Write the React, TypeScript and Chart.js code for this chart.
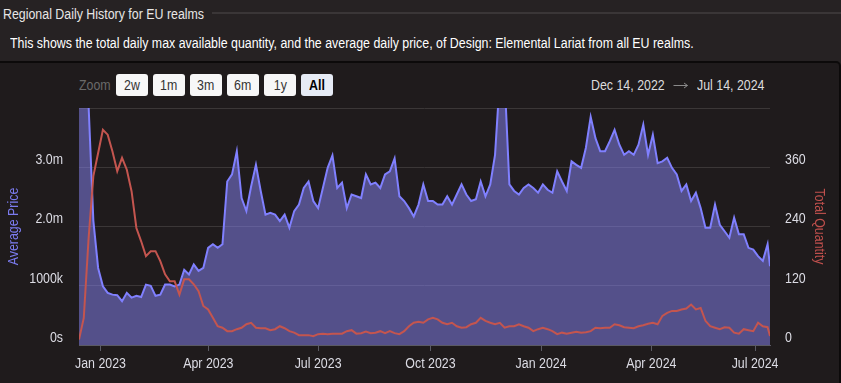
import React, { useEffect, useRef } from 'react';
import { Chart, registerables } from 'chart.js';

Chart.register(...registerables);

// Days since Dec 14, 2022 (sample every 4 days, plus the last day Jul 14, 2024)
const dayOffsets: number[] = [];
for (let d = 0; d <= 576; d += 4) dayOffsets.push(d);
dayOffsets.push(578);

// Average price (in millions)
const avgPriceM: number[] = [
  4.8, 4.6, 4.05, 2.1, 1.30, 0.99, 0.88, 0.85, 0.84, 0.74, 0.88, 0.80, 0.83, 0.81, 1.02, 1.00, 0.83, 0.85, 1.02, 1.02, 0.99, 1.02, 1.27, 1.19,
  1.36, 1.25, 1.30, 1.64, 1.70, 1.64, 1.70, 2.76, 2.88, 3.27, 2.48, 2.26, 2.68, 3.04, 2.60, 2.20, 2.23, 2.20, 2.09, 2.20, 1.98, 2.26, 2.37, 2.65,
  2.76, 2.43, 2.31, 2.65, 2.99, 3.20, 2.65, 2.74, 2.31, 2.54, 2.51, 2.48, 2.88, 2.71, 2.74, 2.65, 2.88, 2.93, 3.15, 2.51, 2.43, 2.31, 2.17, 2.37,
  2.71, 2.43, 2.43, 2.37, 2.37, 2.51, 2.37, 2.54, 2.71, 2.54, 2.43, 2.46, 2.76, 2.51, 2.71, 3.21, 4.5, 4.5, 2.71, 2.60, 2.54, 2.65, 2.71, 2.65,
  2.57, 2.71, 2.62, 2.57, 2.93, 2.76, 2.60, 3.10, 3.04, 2.99, 3.33, 3.85, 3.49, 3.27, 3.27, 3.44, 3.63, 3.38, 3.21, 3.27, 3.21, 3.38, 3.72, 3.21,
  3.55, 3.07, 3.10, 3.16, 2.99, 2.88, 2.60, 2.71, 2.43, 2.57, 2.31, 1.98, 1.98, 2.37, 2.03, 1.92, 1.81, 2.15, 1.87, 1.87, 1.64, 1.61, 1.50, 1.42, 1.70,
  1.33,
];

// Total quantity
const totalQuantity: number[] = [
  11, 55, 215, 342, 389, 436, 426, 392, 352, 379, 355, 311, 237, 210, 180, 190, 190, 170, 143, 129, 129, 102, 133, 133,
  123, 109, 79, 72, 55, 38, 35, 28, 28, 32, 35, 42, 45, 35, 34, 34, 30, 32, 38, 34, 28, 25, 20, 20,
  20, 18, 22, 23, 22, 23, 23, 23, 28, 30, 23, 24, 27, 24, 25, 28, 24, 28, 24, 22, 28, 38, 45, 47,
  45, 52, 55, 52, 45, 42, 45, 38, 35, 36, 42, 45, 55, 49, 45, 42, 45, 35, 38, 38, 42, 38, 35, 28,
  32, 35, 32, 28, 22, 25, 23, 25, 27, 25, 26, 28, 35, 34, 35, 35, 42, 40, 36, 35, 34, 38, 40, 43,
  45, 42, 59, 65, 69, 69, 72, 74, 82, 72, 75, 49, 38, 35, 32, 36, 35, 25, 23, 32, 30, 28, 45, 38, 36,
  18,
];

// X-axis ticks (axis position in day units) and labels
const monthTickDays: number[] = [18, 108.2, 200, 294, 386.5, 478.7, 565.5];
const monthTickLabels: string[] = ['Jan 2023', 'Apr 2023', 'Jul 2023', 'Oct 2023', 'Jan 2024', 'Apr 2024', 'Jul 2024'];

const priceTickLabels: string[] = ['0s', '1000k', '2.0m', '3.0m', ''];
const quantityTickLabels: string[] = ['0', '120', '240', '360', ''];

const zoomButtons: string[] = ['2w', '1m', '3m', '6m', '1y', 'All'];

const FONT = "'Liberation Sans', Arial, Helvetica, sans-serif";
const SX = 0.885;
const BLUE = 'rgb(128,128,255)';
const RED = '#c4554f';

function Text(props: { left: number; top: number; size: number; color: string; children: React.ReactNode; bold?: boolean; lh?: number; sx?: number }) {
  const lh = props.lh ?? 16;
  return (
    <div
      style={{
        position: 'absolute',
        left: props.left,
        top: props.top,
        fontFamily: FONT,
        fontSize: props.size,
        lineHeight: lh + 'px',
        color: props.color,
        whiteSpace: 'nowrap',
        transform: `scaleX(${props.sx ?? SX})`,
        transformOrigin: 'left top',
        fontWeight: props.bold ? 'bold' : 'normal',
      }}
    >
      {props.children}
    </div>
  );
}

export default function App() {
  const canvasRef = useRef<HTMLCanvasElement | null>(null);

  useEffect(() => {
    const canvas = canvasRef.current;
    if (!canvas) return;
    const ctx = canvas.getContext('2d') as CanvasRenderingContext2D;
    const origFill = ctx.fillText;
    // draw all chart text horizontally condensed, like the reference
    (ctx as any).fillText = function (text: string, x: number, y: number) {
      ctx.save();
      ctx.translate(x, y);
      ctx.scale(SX, 1);
      origFill.call(ctx, text, 0, 0);
      ctx.restore();
    };

    const zeroPad = (s: any) => {
      s.paddingTop = 0;
      s.paddingBottom = 0;
      s.paddingLeft = 0;
      s.paddingRight = 0;
    };

    const chart = new Chart(ctx, {
      type: 'line',
      data: {
        datasets: [
          {
            label: 'Total Quantity',
            data: dayOffsets.map((d, i) => ({ x: d, y: totalQuantity[i] })),
            yAxisID: 'y1',
            borderColor: RED,
            borderWidth: 2,
            pointRadius: 0,
            fill: false,
            tension: 0,
            order: 1,
            clip: 0,
          },
          {
            label: 'Average Price',
            data: dayOffsets.map((d, i) => ({ x: d, y: avgPriceM[i] * 1000000 })),
            yAxisID: 'y',
            borderColor: BLUE,
            backgroundColor: 'rgba(135,130,240,0.52)',
            borderWidth: 2,
            pointRadius: 0,
            fill: 'origin',
            tension: 0,
            order: 2,
            clip: 0,
          },
        ],
      },
      options: {
        responsive: false,
        animation: false,
        devicePixelRatio: 1,
        layout: { padding: { top: 8, left: 0, right: 0, bottom: 0 } },
        plugins: {
          legend: { display: false },
          tooltip: { enabled: false },
        },
        scales: {
          x: {
            type: 'linear',
            min: 0,
            max: 578,
            afterBuildTicks: (scale: any) => {
              scale.ticks = monthTickDays.map((v) => ({ value: v }));
            },
            afterFit: (scale: any) => {
              scale.height = 38;
              zeroPad(scale);
            },
            ticks: {
              autoSkip: false,
              maxRotation: 0,
              color: '#dcdce4',
              font: { family: FONT, size: 14 },
              padding: 5,
              callback: (_v: any, i: number) => monthTickLabels[i],
            },
            grid: { display: true, drawOnChartArea: false, drawTicks: true, tickLength: 6, color: '#5a5a64' },
            border: { display: true, color: '#5a5a64' },
          },
          y: {
            position: 'left',
            min: 0,
            max: 4000000,
            afterFit: (scale: any) => {
              scale.width = 79;
              zeroPad(scale);
            },
            ticks: {
              stepSize: 1000000,
              color: '#dcdce4',
              font: { family: FONT, size: 14 },
              padding: 16,
              labelOffset: -7,
              callback: (_v: any, i: number) => priceTickLabels[i],
            },
            grid: { color: '#3b3737', drawTicks: false },
            border: { display: false },
            title: {
              display: true,
              text: 'Average Price',
              color: 'rgb(124,124,240)',
              font: { family: FONT, size: 14 },
              padding: { top: 6, bottom: 0 },
            },
          },
          y1: {
            position: 'right',
            min: 0,
            max: 480,
            afterFit: (scale: any) => {
              scale.width = 71;
              zeroPad(scale);
            },
            ticks: {
              stepSize: 120,
              color: '#dcdce4',
              font: { family: FONT, size: 14 },
              padding: 15,
              labelOffset: -7,
              callback: (_v: any, i: number) => quantityTickLabels[i],
            },
            grid: { display: false, drawTicks: false },
            border: { display: false },
            title: {
              display: true,
              text: 'Total Quantity',
              color: '#c0504d',
              font: { family: FONT, size: 14 },
              padding: { top: 14, bottom: 0 },
            },
          },
        },
      },
    } as any);

    return () => {
      chart.destroy();
      (ctx as any).fillText = origFill;
    };
  }, []);

  return (
    <div style={{ position: 'relative', width: 841, height: 383, overflow: 'hidden', background: '#262223' }}>
      <style>{`body{margin:0;background:#262223;}`}</style>
      <Text left={3} top={6} size={14} color="#e8e6e6">Regional Daily History for EU realms</Text>
      <div style={{ position: 'absolute', left: 212, top: 12, width: 629, height: 2, background: '#3a3637' }} />
      <Text left={10} top={35} size={14} color="#ffffff">
        This shows the total daily max available quantity, and the average daily price, of Design: Elemental Lariat from all EU realms.
      </Text>
      <div
        style={{
          position: 'absolute',
          left: -6,
          top: 61,
          width: 847,
          height: 340,
          boxSizing: 'border-box',
          border: '2px solid #0c0a0a',
          borderRadius: 5,
          background: '#1f1b1c',
        }}
      />
      <Text left={79} top={77} size={14} color="#6a6a6a">Zoom</Text>
      {zoomButtons.map((b, i) => {
        const sel = b === 'All';
        return (
          <div
            key={b}
            style={{
              position: 'absolute',
              left: 116 + 37 * i,
              top: 74,
              width: 32,
              height: 22,
              borderRadius: 3,
              background: sel ? '#e6ebf5' : '#f7f7f7',
              display: 'flex',
              alignItems: 'center',
              justifyContent: 'center',
            }}
          >
            <span
              style={{
                fontFamily: FONT,
                fontSize: 14,
                lineHeight: '16px',
                color: sel ? '#000' : '#333',
                fontWeight: sel ? 'bold' : 'normal',
                transform: `scaleX(${SX})`,
                display: 'inline-block',
              }}
            >
              {b}
            </span>
          </div>
        );
      })}
      <Text left={591} top={77} size={14} lh={16} color="#dcdcdc">Dec 14, 2022</Text>
      <svg style={{ position: 'absolute', left: 673, top: 80 }} width={16} height={10}>
        <path d="M0.5 5.5 H14.5" stroke="#8a8a8a" strokeWidth={1} fill="none" />
        <path d="M11 3 L14.5 5.5 L11 8" stroke="#8a8a8a" strokeWidth={1} fill="none" />
      </svg>
      <Text left={697} top={77} size={14} lh={16} color="#dcdcdc">Jul 14, 2024</Text>
      <canvas
        ref={canvasRef}
        width={841}
        height={283}
        style={{ position: 'absolute', left: 0, top: 100, width: 841, height: 283 }}
      />
    </div>
  );
}
